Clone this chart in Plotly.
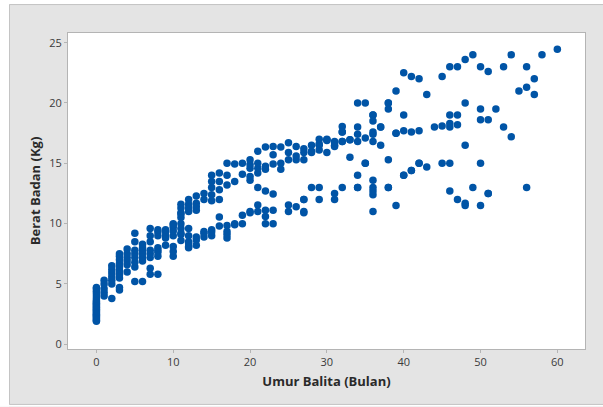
import plotly.graph_objects as go

# Umur (bulan) -> berat (kg)
umur_0 = [0] * 24
berat_0 = [1.9, 2.0, 2.1, 2.2, 2.3, 2.4, 2.5, 2.6, 2.7, 2.8, 2.9, 3.0, 3.1, 3.2, 3.3, 3.4, 3.5, 3.6, 3.8, 4.0, 4.2, 4.4, 4.6, 4.7]

umur_muda = [1,1,1,1,1, 2,2,2,2,2,2,2, 3,3,3,3,3,3,3,3,3,3, 4,4,4,4,4,4, 5,5,5,5,5,5,5,5,
             6,6,6,6,6,6,6, 7,7,7,7,7,7,7,7, 8,8,8,8,8,8,8,8, 9,9,9,9,9,
             10,10,10,10,10,10,10,10, 11,11,11,11,11,11,11,11,11,11,
             12,12,12,12,12,12,12,12,12,12, 13,13,13,13,13,13,13]
berat_muda = [4.0,4.3,4.6,5.0,5.3, 3.8,5.0,5.3,5.6,5.9,6.2,6.5, 4.5,4.7,5.5,5.8,6.1,6.4,6.7,7.0,7.3,7.5,
              6.0,6.6,6.9,7.2,7.5,7.9, 5.2,6.4,6.8,7.2,7.5,7.8,8.5,9.2,
              5.2,6.9,7.2,7.5,7.8,8.0,8.3, 5.8,6.3,7.2,7.5,7.8,8.5,9.0,9.6, 5.8,7.3,7.6,7.8,8.0,9.0,9.3,9.5,
              8.2,8.8,9.0,9.3,9.5, 7.3,7.7,8.1,9.0,9.4,9.7,10.0,9.9,
              8.6,9.1,9.6,10.0,9.2,10.5,10.9,11.3,11.6,10.8,
              8.0,8.4,8.5,9.0,9.6,11.0,11.6,12.0,11.3,8.1, 8.2,8.9,8.65,11.1,11.7,12.3,11.4]

umur_tengah = [14,14,14,14,14, 15,15,15,15,15,15,15,15, 16,16,16,16,16,16, 17,17,17,17,17,17,17,
               18,18,18,18, 19,19,19,19, 20,20,20,20,20,20,20,
               21,21,21,21,21,21,21, 22,22,22,22,22,22,22, 23,23,23,23,23,23,
               24,24,24, 25,25,25,25,25, 26,26,26,26, 27,27,27,27,27,27,
               28,28,28,28, 29,29,29,29,29,29, 30,30,30,30]
berat_tengah = [8.9,9.35,12.0,12.5,9.2, 9.0,9.5,11.9,12.4,13.0,13.5,14.0,9.3,
                9.8,10.55,12.0,12.8,13.5,14.2, 8.8,9.1,9.35,9.85,13.2,14.0,15.0,
                9.9,13.5,14.95,10.0, 10.0,10.7,14.1,15.0,
                10.9,13.6,13.9,14.6,14.9,15.3,11.0,
                11.0,11.55,13.0,14.2,14.6,15.0,16.0,
                10.0,10.6,11.1,12.7,14.5,14.75,16.35,
                10.0,11.1,12.45,14.95,15.7,16.4,
                14.5,15.0,16.35, 11.0,11.55,15.3,15.9,16.7, 11.4,15.3,15.6,16.4,
                10.9,12.0,11.0,15.3,15.9,16.2,
                13.0,15.9,16.0,16.5, 12.0,13.0,16.1,16.5,16.6,17.0, 15.9,16.95,17.0,16.9]

umur_tua = [27,31,31,31,31,31,31, 32,32,32,32,32,32, 33,33,33, 34,34,34,34,34,34,34,
            35,35,35,35, 36,36,36,36,36,36,36,36,36,36,36, 37,37,37, 38,38,38,38,38,38,
            39,39,39,39, 40,40,40,40,40, 41,41,41,41, 42,42,42,42,
            43,43, 44, 45,45,45, 46,46,46,46,46,46, 47,47,47,47,
            48,48,48,48,48, 49,49, 50,50,50,50,50,
            51,51,51,51, 52, 53,53, 54,54, 55, 56,56,56, 57,57, 58, 60]
berat_tua = [12.0,12.0,12.5,16.4,16.5,16.7,16.8, 13.0,16.8,17.6,18.05,17.6,16.8, 15.5,16.95,16.95,
             13.0,14.0,16.8,17.4,18.0,20.0,13.0, 15.0,17.1,20.0,15.0,
             11.0,12.4,12.7,13.0,13.6,16.8,17.4,17.6,18.5,19.0,19.0, 16.5,18.0,18.0,
             13.0,15.3,19.5,20.0,13.0,20.0, 11.5,17.5,21.0,17.5,
             14.0,17.7,19.0,22.5,14.0, 14.4,17.6,22.2,14.4, 15.0,17.7,22.0,15.0,
             14.7,20.7, 18.0, 15.0,18.1,22.2,
             12.7,15.0,18.0,18.3,19.0,23.0, 12.0,18.2,19.0,23.0,
             11.5,16.5,20.0,23.6,11.7, 13.0,24.0, 11.5,15.0,18.6,19.5,23.0,
             12.5,18.6,22.6,12.5, 19.5, 18.0,23.0, 17.2,24.0, 21.0, 13.0,21.3,23.0, 20.7,22.0, 24.0, 24.45]

umur = umur_0 + umur_muda + umur_tengah + umur_tua
berat = berat_0 + berat_muda + berat_tengah + berat_tua

x_ticks = [0, 10, 20, 30, 40, 50, 60]
y_ticks = [0, 5, 10, 15, 20, 25]

W, H = 603, 407
L, R, T, B = 68, 585, 33, 349.5
pw, ph = R - L, B - T


def px(v):
    return (v - L) / pw


def py(v):
    return (B - v) / ph


fig = go.Figure(go.Scatter(
    x=umur, y=berat, mode="markers",
    marker=dict(color="#0054A6", size=7.5, symbol="circle", line=dict(width=0)),
))

# White page edge around the grey panel: left, top and bottom strips, all outside the plot area
for x0, x1, y0, y1 in [(0, 9, 0, H), (0, W, 0, 4), (0, W, 405.5, H)]:
    fig.add_shape(type="rect", xref="paper", yref="paper", layer="above",
                  x0=px(x0), x1=px(x1), y0=py(y1), y1=py(y0),
                  fillcolor="white", line=dict(width=0))
# Panel edge lines
for x0, x1, y0, y1 in [(9.5, 9.5, 4.5, 405), (9.5, W, 4.5, 4.5), (9.5, W, 405, 405)]:
    fig.add_shape(type="line", xref="paper", yref="paper", layer="above",
                  x0=px(x0), x1=px(x1), y0=py(y1), y1=py(y0),
                  line=dict(color="#C4C4C4", width=1))

axis = dict(showgrid=False, zeroline=False, showline=True, mirror=True,
            linecolor="#B4B4B4", linewidth=1, ticks="outside", ticklen=3,
            tickcolor="#B4B4B4", tickwidth=1,
            tickfont=dict(family="Open Sans", size=11, color="#3A3A3A"),
            automargin=False)

fig.update_layout(
    width=W, height=H,
    margin=dict(l=L, r=W - R, t=T, b=H - B, pad=0),
    paper_bgcolor="#E4E4E4", plot_bgcolor="white", showlegend=False,
    xaxis=dict(axis, range=[-3.7, 63.6], tickvals=x_ticks,
               title=dict(text="<b>Umur Balita (Bulan)</b>", standoff=8,
                          font=dict(family="Open Sans", size=13, color="#2A2A2A"))),
    yaxis=dict(axis, range=[-0.39, 25.8], tickvals=y_ticks,
               title=dict(text="<b>Berat Badan (Kg)</b>", standoff=5,
                          font=dict(family="Open Sans", size=13, color="#2A2A2A"))),
)

fig.write_html(
    "out.html",
    config={"displayModeBar": False},
    post_script="document.body.style.margin='0';document.body.style.overflow='hidden';",
)
